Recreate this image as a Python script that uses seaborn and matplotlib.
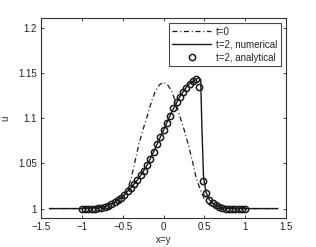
import matplotlib
matplotlib.use("Agg")
import matplotlib.pyplot as plt
import numpy as np
import seaborn as sns

# t=0 initial profile along x=y
x_init = [-1.4, -0.7, -0.65, -0.6, -0.55, -0.5, -0.45, -0.4, -0.35, -0.3, -0.25,
          -0.2, -0.15, -0.1, -0.05, 0.0, 0.05, 0.1, 0.15, 0.2, 0.25, 0.3, 0.35,
          0.4, 0.45, 0.5, 0.55, 0.6, 0.65, 0.7, 1.4]
u_init = [1.0, 1.0, 1.0005, 1.002, 1.005, 1.011, 1.020, 1.032, 1.052, 1.072, 1.088,
          1.102, 1.118, 1.130, 1.137, 1.140, 1.137, 1.130, 1.118, 1.102, 1.088,
          1.072, 1.054, 1.034, 1.021, 1.011, 1.005, 1.002, 1.0005, 1.0, 1.0]

# t=2 numerical solution
x_num = [-1.4, -1.0, -0.8, -0.7, -0.6, -0.5, -0.4, -0.3, -0.2, -0.1, 0.0, 0.1,
         0.2, 0.3, 0.36, 0.40, 0.43, 0.455, 0.47, 0.49, 0.52, 0.56, 0.6, 0.65,
         0.7, 0.8, 1.0, 1.4]
u_num = [1.0, 1.0, 1.001, 1.0025, 1.007, 1.0135, 1.023, 1.034, 1.048, 1.067,
         1.087, 1.107, 1.124, 1.137, 1.141, 1.143, 1.145, 1.143, 1.09, 1.035,
         1.018, 1.010, 1.006, 1.003, 1.0015, 1.0, 1.0, 1.0]

# t=2 analytical solution (markers)
x_ana = [-1.00, -0.96, -0.92, -0.88, -0.84, -0.80, -0.76, -0.72, -0.68, -0.64,
         -0.60, -0.56, -0.52, -0.48, -0.44, -0.40, -0.36, -0.32, -0.28, -0.24,
         -0.20, -0.16, -0.12, -0.08, -0.04, 0.00, 0.04, 0.08, 0.12, 0.16,
         0.20, 0.24, 0.28, 0.32, 0.36, 0.40, 0.44, 0.48, 0.52, 0.56,
         0.60, 0.64, 0.68, 0.72, 0.76, 0.80, 0.84, 0.88, 0.92, 0.96, 1.00]
u_ana = [1.000, 1.000, 1.000, 1.000, 1.000, 1.001, 1.001, 1.002, 1.003, 1.005,
         1.007, 1.009, 1.012, 1.015, 1.019, 1.023, 1.027, 1.032, 1.037, 1.042,
         1.048, 1.055, 1.063, 1.071, 1.079, 1.087, 1.095, 1.103, 1.111, 1.118,
         1.124, 1.129, 1.134, 1.138, 1.141, 1.143, 1.135, 1.030, 1.017, 1.010,
         1.006, 1.004, 1.002, 1.001, 1.000, 1.000, 1.000, 1.000, 1.000, 1.000, 1.000]

sns.set_theme(style="ticks")
plt.rcParams["font.family"] = ["Liberation Sans", "DejaVu Sans"]

fig = plt.figure(figsize=(3.16, 2.47), dpi=100)
ax = fig.add_axes([0.130, 0.119, 0.775, 0.808])

sns.lineplot(x=x_init, y=u_init, ax=ax, color="k", lw=0.9,
             linestyle=(0, (4, 2.2, 0.8, 2.2)), label="t=0", sort=False)
sns.lineplot(x=x_num, y=u_num, ax=ax, color="k", lw=1.0,
             label="t=2, numerical", sort=False)
sns.lineplot(x=x_ana, y=u_ana, ax=ax, color="k", linestyle="", marker="o",
             mfc="none", mec="k", ms=4.5, mew=1.1, label="t=2, analytical",
             sort=False)

ax.set_xlim(-1.5, 1.5)
ax.set_ylim(0.99, 1.211)
ax.set_xticks([-1.5, -1, -0.5, 0, 0.5, 1, 1.5])
ax.set_xticklabels(["\u22121.5", "\u22121", "\u22120.5", "0", "0.5", "1", "1.5"])
ax.set_yticks([1, 1.05, 1.1, 1.15, 1.2])
ax.set_yticklabels(["1", "1.05", "1.1", "1.15", "1.2"])
ax.tick_params(direction="in", top=True, right=True, length=2.5, width=0.6,
               labelsize=7, pad=3, colors="#222222")
for sp in ax.spines.values():
    sp.set_visible(True)
    sp.set_linewidth(0.8)
    sp.set_color("#333333")

ax.set_xlabel("x=y", fontsize=7, labelpad=2)
ax.set_ylabel("u", fontsize=7)
ax.yaxis.set_label_coords(-0.125, 0.5)

leg = ax.legend(loc="upper right", fontsize=7, frameon=True, fancybox=False,
                edgecolor="k", handlelength=4.0, borderpad=0.35,
                labelspacing=0.3, handletextpad=0.5, borderaxespad=0.55)
leg.get_frame().set_linewidth(0.8)

fig.savefig("out.png", dpi=100)
